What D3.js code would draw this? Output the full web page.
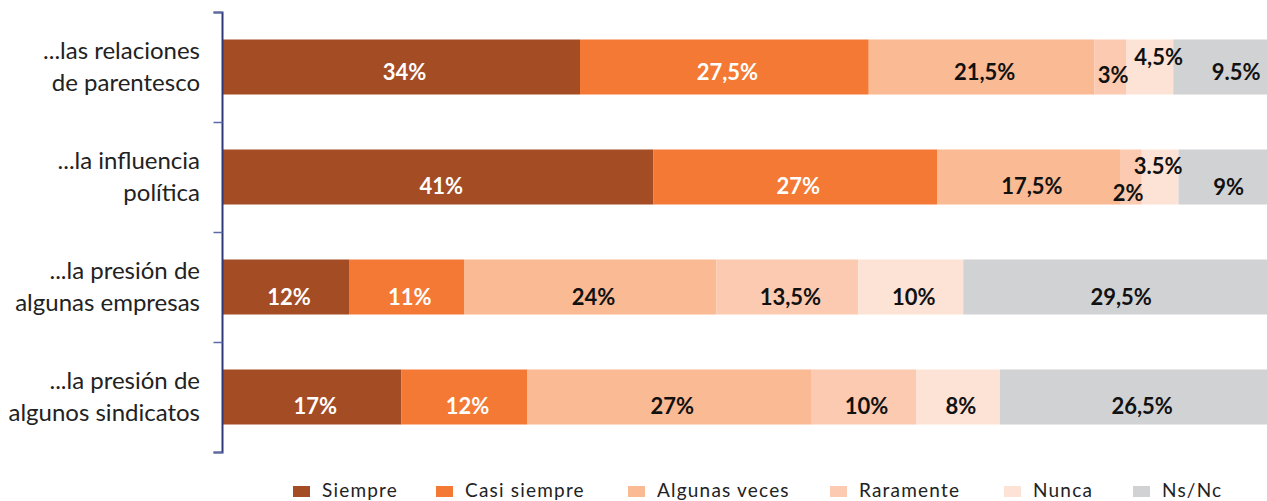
<!DOCTYPE html>
<html lang="es">
<head>
<meta charset="utf-8">
<script src="https://cdn.jsdelivr.net/npm/d3@7"></script>
<style>
  html, body { margin: 0; padding: 0; background: #ffffff; }
  svg { display: block; }
</style>
</head>
<body>
<svg id="chart" width="1267" height="501"></svg>
<script>
// Categories (each label is split over two lines)
const categories = [
  ["...las relaciones", "de parentesco"],
  ["...la influencia", "política"],
  ["...la presión de", "algunas empresas"],
  ["...la presión de", "algunos sindicatos"]
];

// Answer series, in stacking order
const seriesNames = ["Siempre", "Casi siempre", "Algunas veces", "Raramente", "Nunca", "Ns/Nc"];

// Percentages per category
const siempre      = [34, 41, 12, 17];
const casiSiempre  = [27.5, 27, 11, 12];
const algunasVeces = [21.5, 17.5, 24, 27];
const raramente    = [3, 2, 13.5, 10];
const nunca        = [4.5, 3.5, 10, 8];
const nsNc         = [9.5, 9, 29.5, 26.5];

// Decimal separator used by each printed label (most use a comma)
const separators = [
  [",", ",", ",", ",", ",", "."],
  [",", ",", ",", ",", ".", ","],
  [",", ",", ",", ",", ",", ","],
  [",", ",", ",", ",", ",", ","]
];

const seriesValues = [siempre, casiSiempre, algunasVeces, raramente, nunca, nsNc];
const colors = ["#a44c24", "#f37934", "#f9ba94", "#fbcab0", "#fde3d6", "#d1d2d4"];
const labelColors = ["#ffffff", "#ffffff", "#111111", "#111111", "#111111", "#111111"];

// Nudges for labels that sit in narrow segments [series]-[category] -> [dx, dy]
const labelNudge = {
  "3-0": [0, 3],
  "4-0": [6, -15],
  "5-0": [10, 0],
  "3-1": [-6, 7],
  "4-1": [-5, -20],
  "5-1": [0, 1]
};

const rows = categories.map((c, i) => {
  const r = { idx: i };
  seriesNames.forEach((s, k) => { r[s] = seriesValues[k][i]; });
  return r;
});

const svg = d3.select("#chart");

const x = d3.scaleLinear().domain([0, 100]).range([223, 1273]);
const y = d3.scaleBand()
  .domain(d3.range(categories.length))
  .range([12, 452])
  .paddingInner(0.5)
  .paddingOuter(0.25);

const stack = d3.stack().keys(seriesNames);
const layers = stack(rows);

const fmt = (v, sep) => {
  const s = Number.isInteger(v) ? String(v) : v.toFixed(1);
  return s.replace(".", sep) + "%";
};

// Bars
const g = svg.append("g");
layers.forEach((layer, k) => {
  g.selectAll(null)
    .data(layer)
    .join("rect")
    .attr("x", d => x(d[0]))
    .attr("y", (d, i) => y(i))
    .attr("width", d => x(d[1]) - x(d[0]))
    .attr("height", y.bandwidth())
    .attr("fill", colors[k]);
});

// Value labels
const rowShift = [4, 8, 9, 8];
layers.forEach((layer, k) => {
  g.selectAll(null)
    .data(layer)
    .join("text")
    .attr("x", (d, i) => (x(d[0]) + x(d[1])) / 2 + 3 + ((labelNudge[k + "-" + i] || [0, 0])[0]))
    .attr("y", (d, i) => y(i) + y.bandwidth() / 2 + rowShift[i] + ((labelNudge[k + "-" + i] || [0, 0])[1]))
    .attr("text-anchor", "middle")
    .attr("dominant-baseline", "central")
    .attr("font-family", "Lato, 'Open Sans', sans-serif")
    .attr("font-weight", 700)
    .attr("font-size", 22)
    .attr("fill", labelColors[k])
    .text((d, i) => fmt(d[1] - d[0], separators[i][k]));
});

// Category axis: vertical line with tick marks between categories
const axis = d3.axisLeft(
  d3.scaleLinear().domain([0, categories.length]).range([12, 452])
)
  .ticks(categories.length)
  .tickSize(9)
  .tickFormat("");

svg.append("g")
  .attr("transform", "translate(222.5,0)")
  .call(axis)
  .call(a => a.select(".domain").attr("stroke", "#2e3a78").attr("stroke-width", 2).attr("d", "M-9,12.5H0V452.5H-9"))
  .call(a => a.selectAll(".tick line").attr("stroke", "#5a6aa8").attr("stroke-width", 1.5));

// Category labels
const catG = svg.append("g")
  .attr("font-family", "Lato, 'Open Sans', sans-serif")
  .attr("font-size", 24)
  .attr("fill", "#222222")
  .attr("text-anchor", "end");

categories.forEach((lines, i) => {
  const cy = y(i) + y.bandwidth() / 2;
  const t = catG.append("text").attr("x", 200).attr("y", cy - 8.5);
  t.append("tspan").attr("x", 200).text(lines[0]);
  t.append("tspan").attr("x", 200).attr("dy", 32).text(lines[1]);
});

// Legend
const legendX = [293, 436, 628, 830, 1004, 1133];
const legend = svg.append("g")
  .attr("font-family", "Lato, 'Open Sans', sans-serif")
  .attr("font-size", 19)
  .attr("fill", "#222222");

seriesNames.forEach((name, k) => {
  const item = legend.append("g").attr("transform", `translate(${legendX[k]},0)`);
  item.append("rect").attr("x", 0).attr("y", 486).attr("width", 17).attr("height", 11).attr("fill", colors[k]);
  item.append("text").attr("x", 29).attr("y", 497).attr("letter-spacing", 1.2).text(name);
});
</script>
</body>
</html>
